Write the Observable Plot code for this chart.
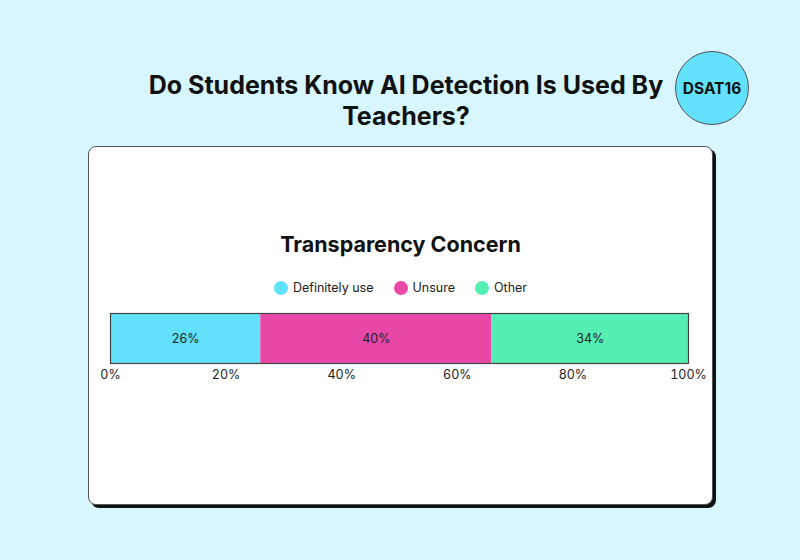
<!DOCTYPE html>
<html>
<head>
<meta charset="utf-8">
<script src="https://cdn.jsdelivr.net/npm/d3@7"></script>
<script src="https://cdn.jsdelivr.net/npm/@observablehq/plot@0.6"></script>
<style>
  html, body { margin: 0; padding: 0; }
  body { width: 800px; height: 560px; background: #d7f6fd; position: relative; overflow: hidden; font-family: Inter, "Noto Sans", sans-serif; color: #111; }
  #title { position: absolute; left: 106px; width: 600px; top: 70px; text-align: center; font-size: 25px; font-weight: 700; line-height: 31px; letter-spacing: 0px; }
  #badge { position: absolute; left: 675px; top: 51px; width: 72px; height: 72px; border-radius: 50%; background: #62e1fd; border: 1.5px solid #555; display: flex; align-items: center; justify-content: center; font-weight: 700; font-size: 15.5px; }
  #card { position: absolute; left: 88px; top: 146px; width: 623px; height: 357px; background: #fff; border: 1px solid #555; border-radius: 8px; box-shadow: 3px 3px 0 #111; }
  #subtitle { position: absolute; left: 0; width: 623px; top: 84px; text-align: center; font-size: 21.5px; font-weight: 700; }
  #legend { position: absolute; left: 0; width: 623px; top: 133px; display: flex; justify-content: center; gap: 0; font-size: 12.5px; color: #222; }
  .item { display: flex; align-items: center; margin: 0 10px; }
  .sw { width: 14px; height: 14px; border-radius: 50%; margin-right: 5px; }
  #plot { position: absolute; left: 0; top: 154px; }
</style>
</head>
<body>
<div id="title">Do Students Know AI Detection Is Used By Teachers?</div>
<div id="badge">DSAT16</div>
<div id="card">
  <div id="subtitle">Transparency Concern</div>
  <div id="legend"></div>
  <div id="plot"></div>
</div>
<script>
const categories = ["Definitely use", "Unsure", "Other"];
const values = [26, 40, 34];
const colors = ["#62e1fd", "#ea48a8", "#55efb3"];
const tickValues = [0, 20, 40, 60, 80, 100];

const data = categories.map((c, i) => ({category: c, value: values[i]}));

const legend = document.getElementById("legend");
categories.forEach((c, i) => {
  const it = document.createElement("div");
  it.className = "item";
  it.innerHTML = `<span class="sw" style="background:${colors[i]}"></span><span>${c}</span>`;
  legend.appendChild(it);
});

const chart = Plot.plot({
  width: 623,
  height: 90,
  marginLeft: 21,
  marginRight: 24,
  marginTop: 12,
  marginBottom: 28,
  style: {fontFamily: "Inter, 'Noto Sans', sans-serif", fontSize: "12.5px", color: "#222", background: "transparent"},
  x: {domain: [0, 100], ticks: tickValues, tickFormat: d => d + "%", tickSize: 0, tickPadding: 7, label: null},
  y: {axis: null, domain: ["all"], padding: 0},
  color: {domain: categories, range: colors},
  marks: [
    Plot.barX(data, Plot.stackX({x: "value", y: () => "all", fill: "category", order: null, insetTop: 0, insetBottom: 0})),
    Plot.text(data, Plot.stackX({x: "value", y: () => "all", text: d => d.value + "%", fill: "#222", fontSize: 12.5, order: null})),
    Plot.frame({stroke: "#444", strokeWidth: 1.2})
  ]
});
document.getElementById("plot").appendChild(chart);
</script>
</body>
</html>
